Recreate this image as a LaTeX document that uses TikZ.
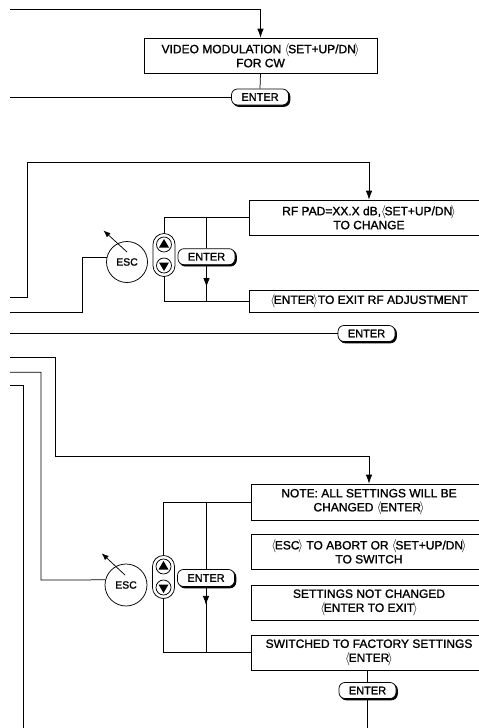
\documentclass[tikz,border=0pt]{standalone}
\usepackage{fontspec}
\setmainfont[FakeBold=1.3]{Liberation Sans}
\newfontfamily\boxfont[FakeBold=1.3]{Liberation Sans}
\usetikzlibrary{arrows.meta,shadows,calc}
\newcommand\lab{\raisebox{-0.4pt}{\scalebox{1.05}[1.1]{$\langle$}}\kern-1.4pt}
\newcommand\rab{\kern-1.4pt\raisebox{-0.4pt}{\scalebox{1.05}[1.1]{$\rangle$}}}
\newcommand\updnbtn[3]{%
  \node[capsule] (#1) at (#2,#3) {};
  \draw (#2,#3-10.5) circle[radius=7.5];
  \draw (#2,#3+10.5) circle[radius=7.5];
  \fill (#2,#3-16) -- (#2+5,#3-7.5) -- (#2-5,#3-7.5) -- cycle;
  \fill (#2,#3+16) -- (#2+5,#3+7.5) -- (#2-5,#3+7.5) -- cycle;
}
\begin{document}
\begin{tikzpicture}[x=1pt,y=-1pt,line width=0.75pt,
  box/.style={draw,rectangle,minimum width=238,minimum height=35,inner sep=0pt,align=center,font=\boxfont\fontsize{12}{14}\selectfont},
  key/.style={draw,fill=white,rounded corners=6,minimum width=57,minimum height=16,inner sep=0pt,font=\boxfont\fontsize{11}{12}\selectfont,
    copy shadow={shadow xshift=1.4pt,shadow yshift=-1.4pt,fill=black,draw=black}},
  escbtn/.style={draw,fill=white,circle,minimum size=41,inner sep=0pt,font=\boxfont\fontsize{10.5}{12}\selectfont},
  capsule/.style={draw,fill=white,rounded corners=10.9,minimum width=22,minimum height=43,inner sep=0pt},
  arr/.style={-{Latex[length=9pt,width=6.5pt]}},
  sarr/.style={-{Latex[length=7pt,width=5.5pt]}}]
\useasboundingbox (0,0) rectangle (479,728);
\clip (0,0) rectangle (479,728);

% ---------- top section
\node[box,minimum width=233] (vid) at (260.5,55.5) {VIDEO MODULATION \lab SET+UP/DN\rab\\FOR CW};
\node[key] (ent1) at (260,97) {ENTER};
\coordinate (t1) at (10,9);
\coordinate (t2) at (10,97);
\draw[arr] (t1) -| (vid.north);
\draw (vid.south) -- (ent1.north);
\draw (t2) -- (ent1.west);

% ---------- middle section
\node[box,minimum width=240] (rf) at (369,217.5) {RF PAD=XX.X dB,\lab SET+UP/DN\rab\\TO CHANGE};
\node[box,minimum width=240,minimum height=22] (exitrf) at (369,301) {\lab ENTER\rab TO EXIT RF ADJUSTMENT};
\updnbtn{ud1}{164}{255}
\node[key] (ent2) at (206.5,256.7) {ENTER};
\node[escbtn] (esc1) at (127,262) {ESC};
\coordinate (m1) at (10,297.7);
\coordinate (m2) at (27,162.7);
\coordinate (m3) at (82,312.3);
\coordinate (m4) at (10,312.3);
\draw[arr] (m1) -| (m2) -| (rf.north);
\draw (rf.west) -| (ud1.north);
\draw (rf.west -| ent2.north) -- (ent2.north);
\draw (ud1.south) |- (exitrf.west);
\draw (ent2.south) |- (exitrf.west);
\draw[arr] (ent2.south) -- ++(0,22);
\draw[sarr] ([shift={(0,-10)}]esc1.center) -- ++(-23.5,-21.5);
\draw (esc1.166) -| (m3) -- (m4);
\node[key] (ent3) at (366.5,333.5) {ENTER};
\coordinate (m5) at (10,333.5);
\draw (m5) -- (ent3.west);

% ---------- bottom section
\node[box,minimum width=236,minimum height=36] (note) at (369,502) {NOTE: ALL SETTINGS WILL BE\\CHANGED \lab ENTER\rab};
\node[box,minimum width=236] (abort) at (369,551.7) {\lab ESC\rab\ TO ABORT OR \lab SET+UP/DN\rab\\TO SWITCH};
\node[box,minimum width=236] (notch) at (369,602.5) {SETTINGS NOT CHANGED\\\lab ENTER TO EXIT\rab};
\node[box,minimum width=236] (sw) at (369,652.5) {SWITCHED TO FACTORY SETTINGS\\\lab ENTER\rab};
\updnbtn{ud2}{163.5}{577}
\node[key,minimum height=17] (ent4) at (206,578) {ENTER};
\node[escbtn,minimum size=42] (esc2) at (126,585) {ESC};
\node[key] (ent5) at (367.5,690.5) {ENTER};
\coordinate (b1) at (10,357.3);
\coordinate (b2) at (55,456);
\coordinate (b3) at (10,372.3);
\coordinate (b4) at (41,580);
\coordinate (b5) at (10,385);
\coordinate (b6) at (23,728);
\coordinate (b7) at (367.5,728);
\draw[arr] (b1) -| (b2) -| (note.north);
\draw (b3) -| (b4) -- (esc2.166);
\draw (b5) -| (b6);
\draw (note.west) -| (ud2.north);
\draw (note.west -| ent4.north) -- (ent4.north);
\draw (ud2.south) |- (sw.west);
\draw (ent4.south) |- (sw.west);
\draw[arr] (ent4.south) -- ++(0,18);
\draw[sarr] ([shift={(-1,-10)}]esc2.center) -- ++(-23.3,-21.7);
\draw (sw.south -| ent5.north) -- (ent5.north);
\draw (ent5.south) -- (b7);
\end{tikzpicture}
\end{document}
